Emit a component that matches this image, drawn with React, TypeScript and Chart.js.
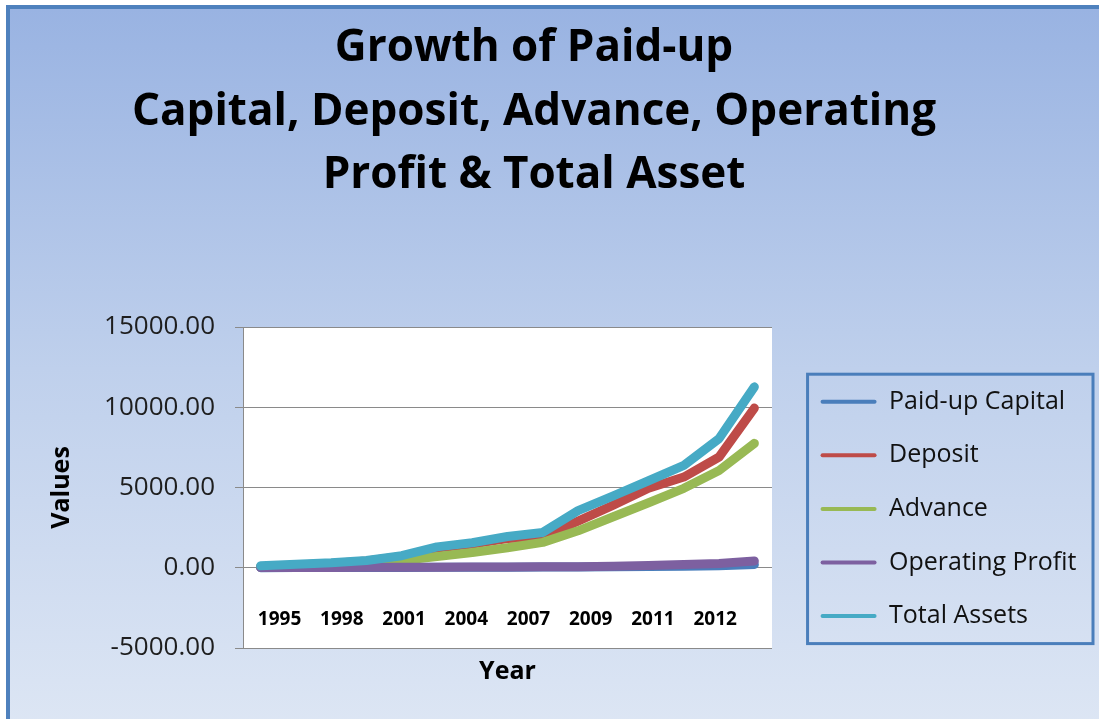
import React, { useEffect, useRef } from 'react';
import { Chart, registerables } from 'chart.js';

Chart.register(...registerables);

// ---- data ----
const categories = ['1995', '1996', '1997', '1998', '1999', '2000', '2001', '2002', '2003', '2004', '2005', '2006', '2007', '2008', '2009'];
const tickLabels = ['1995', '', '1998', '', '2001', '', '2004', '', '2007', '', '2009', '', '2011', '', '2012', '', ''];
const paidUpCapital = [5, 8, 12, 15, 20, 25, 30, 35, 40, 50, 60, 80, 100, 130, 200];
const deposit = [70, 170, 270, 420, 700, 1230, 1480, 1820, 1900, 2900, 3900, 4950, 5650, 6900, 9950];
const advance = [50, 120, 200, 300, 450, 700, 950, 1250, 1580, 2300, 3180, 4050, 4950, 6060, 7750];
const operatingProfit = [10, 15, 20, 25, 30, 35, 40, 45, 55, 70, 100, 140, 200, 260, 420];
const totalAssets = [120, 220, 310, 450, 750, 1300, 1560, 1950, 2200, 3560, 4480, 5420, 6380, 8050, 11270];
const seriesNames = ['Paid-up Capital', 'Deposit', 'Advance', 'Operating Profit', 'Total Assets'];
const seriesColors = ['#4a7ebb', '#be4b48', '#98b954', '#7d60a0', '#46aac5'];
const titleLines = ['Growth of Paid-up', 'Capital, Deposit, Advance, Operating', 'Profit & Total Asset'];
const yTicks = { min: -5000, max: 15000, step: 5000 };

// ---- layout constants ----
const W = 1099;
const H = 719;
const PAD_L = -18.5;
const PAD_R = 12.5;
const AREA_LEFT = 243;
const AREA_RIGHT = 772;
const LEG_PAD = 28.6;
const LEG_TITLE_H = 360.6;

const plotBg = {
  id: 'plotBg',
  beforeDraw(chart: any) {
    const { ctx, chartArea } = chart;
    if (!chartArea) return;
    ctx.save();
    ctx.fillStyle = '#ffffff';
    ctx.fillRect(chartArea.left, chartArea.top, chartArea.right - chartArea.left, chartArea.bottom - chartArea.top);
    ctx.restore();
  },
};

const legendBorder = {
  id: 'legendBorder',
  afterDraw(chart: any) {
    const lg = chart.legend;
    if (!lg) return;
    const ctx = chart.ctx;
    const itemsTop = lg.top + LEG_TITLE_H + LEG_PAD;
    const n = seriesNames.length;
    const spacing = 25 + LEG_PAD;
    const x = lg.left + LEG_PAD - 13;
    const y = itemsTop - 15;
    const h = n * spacing - LEG_PAD + 30;
    const right = 1093;
    ctx.save();
    ctx.strokeStyle = '#4a7ebb';
    ctx.lineWidth = 3;
    ctx.strokeRect(x, y, right - x, h);
    ctx.restore();
  },
};

export default function App() {
  const ref = useRef<HTMLCanvasElement | null>(null);

  useEffect(() => {
    if (!ref.current) return;
    const values = [paidUpCapital, deposit, advance, operatingProfit, totalAssets];
    const datasets = values.map((d, i) => ({
      label: seriesNames[i],
      data: d,
      borderColor: seriesColors[i],
      backgroundColor: seriesColors[i],
      borderWidth: 9,
      borderCapStyle: 'round' as const,
      borderJoinStyle: 'round' as const,
      pointRadius: 0,
      pointHoverRadius: 0,
      tension: 0,
      fill: false,
      order: values.length - i,
      xAxisID: 'x',
      yAxisID: 'y',
    }));

    const chart = new Chart(ref.current, {
      type: 'line',
      data: { labels: categories, datasets },
      plugins: [plotBg, legendBorder],
      options: {
        responsive: false,
        animation: false,
        layout: { padding: { left: PAD_L, right: PAD_R, top: 0, bottom: 0 } },
        plugins: {
          title: {
            display: true,
            text: titleLines,
            color: '#000000',
            font: { family: 'Open Sans', weight: 'bold', size: 44, lineHeight: 63.5 / 44 },
            padding: { top: 17, bottom: 119.5 },
          },
          legend: {
            position: 'right',
            fullSize: true,
            align: 'start',
            maxWidth: 400,
            title: { display: true, text: ' ', font: { size: 10, lineHeight: 1.2 }, padding: { top: LEG_TITLE_H - 12, bottom: 0 } },
            labels: {
              font: { family: 'Open Sans', size: 25 },
              color: '#111111',
              boxWidth: 56,
              boxHeight: 4,
              padding: LEG_PAD,
              useBorderRadius: true,
              borderRadius: 2,
              sort: (a: any, b: any) => a.datasetIndex - b.datasetIndex,
              generateLabels: (c: any) =>
                (Chart.defaults.plugins.legend.labels.generateLabels as any)(c).map((it: any) => ({
                  ...it,
                  fillStyle: it.strokeStyle,
                  lineWidth: 0,
                })),
            },
          },
          tooltip: { enabled: false },
        },
        scales: {
          x: { type: 'category', display: false, offset: true },
          xl: {
            type: 'category',
            labels: tickLabels,
            position: 'bottom',
            offset: true,
            grid: { display: false },
            border: { display: false },
            ticks: {
              autoSkip: false,
              maxRotation: 0,
              minRotation: 0,
              mirror: true,
              padding: 16.6,
              labelOffset: 21,
              color: '#000000',
              font: { family: 'Open Sans', weight: 'bold', size: 19 },
            },
            title: {
              display: true,
              text: 'Year',
              color: '#000000',
              font: { family: 'Open Sans', weight: 'bold', size: 25 },
              padding: { top: 64, bottom: 32 },
            },
            afterFit: (s: any) => {
              s.height = 71;
            },
          },
          y: {
            type: 'linear',
            position: 'left',
            min: yTicks.min,
            max: yTicks.max,
            ticks: {
              stepSize: yTicks.step,
              padding: 20,
              color: '#1e1e1e',
              font: { family: 'Open Sans', size: 26 },
              callback: (v: any) => Number(v).toFixed(2),
            },
            grid: { color: '#8a8a8a', lineWidth: 1, drawTicks: true, tickLength: 8 },
            border: { display: true, color: '#8a8a8a', width: 1 },
            title: {
              display: true,
              text: 'Values',
              color: '#000000',
              font: { family: 'Open Sans', weight: 'bold', size: 25 },
              padding: { top: 62 - PAD_L - 15, bottom: 0 },
            },
            afterFit: (s: any) => {
              s.width = AREA_LEFT - PAD_L;
            },
          },
          yR: {
            type: 'linear',
            position: 'right',
            display: true,
            grid: { display: false },
            border: { display: false },
            ticks: { display: false },
            afterFit: (s: any) => {
              const lg = s.chart.legend;
              const lw = lg && lg.width ? lg.width : 294;
              s.width = Math.max(0, W - PAD_R - lw - AREA_RIGHT);
            },
          },
        },
      } as any,
    });
    return () => chart.destroy();
  }, []);

  return (
    <div style={{ position: 'absolute', left: 0, top: 0, width: W, height: H, background: '#ffffff', overflow: 'hidden' }}>
      <div
        style={{
          position: 'absolute',
          left: 6,
          top: 5,
          right: -10,
          bottom: -10,
          borderTop: '4px solid #4f81bd',
          borderLeft: '4px solid #4f81bd',
          background: 'linear-gradient(180deg, #99b3e2 0%, #bfd0ec 50%, #dde6f4 100%)',
        }}
      />
      <canvas ref={ref} width={W} height={H} style={{ position: 'absolute', left: 0, top: 0, width: W, height: H }} />
    </div>
  );
}
